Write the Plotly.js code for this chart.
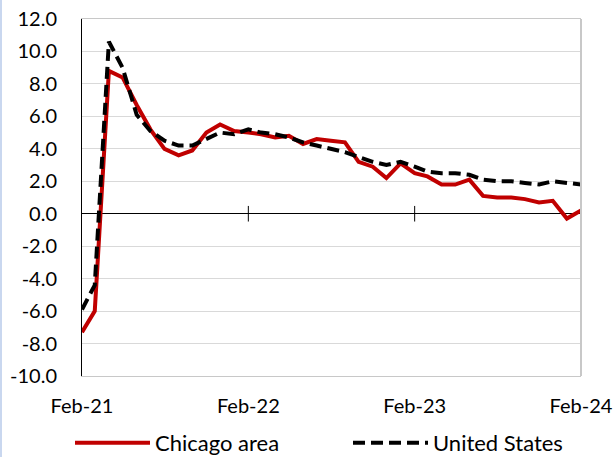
<!DOCTYPE html>
<html><head><meta charset="utf-8">
<script src="https://cdn.plot.ly/plotly-3.0.1.min.js"></script>
<style>
html,body{margin:0;padding:0;background:#fff;}
#wrap{position:absolute;left:0;top:0;width:614px;height:457px;border-left:2px solid #c9d7ef;}
#chart{width:614px;height:457px;}
</style></head><body>
<div id="wrap"><div id="chart"></div></div>
<script>
const months = ["2021-02-01","2021-03-01","2021-04-01","2021-05-01","2021-06-01","2021-07-01","2021-08-01","2021-09-01","2021-10-01","2021-11-01","2021-12-01",
"2022-01-01","2022-02-01","2022-03-01","2022-04-01","2022-05-01","2022-06-01","2022-07-01","2022-08-01","2022-09-01","2022-10-01","2022-11-01","2022-12-01",
"2023-01-01","2023-02-01","2023-03-01","2023-04-01","2023-05-01","2023-06-01","2023-07-01","2023-08-01","2023-09-01","2023-10-01","2023-11-01","2023-12-01",
"2024-01-01","2024-02-01"];
const chicago = [-7.3,-6.0,8.8,8.4,6.7,5.2,4.0,3.6,3.9,5.0,5.5,5.1,5.0,4.9,4.7,4.8,4.3,4.6,4.5,4.4,3.2,2.9,2.2,3.1,2.5,2.3,1.8,1.8,2.1,1.1,1.0,1.0,0.9,0.7,0.8,-0.3,0.2];
const us = [-5.9,-4.4,10.6,9.0,6.1,5.1,4.5,4.2,4.2,4.6,5.0,4.9,5.2,5.0,4.9,4.7,4.4,4.2,4.0,3.8,3.5,3.2,3.0,3.2,2.9,2.6,2.5,2.5,2.4,2.1,2.0,2.0,1.9,1.8,2.0,1.9,1.8];
const tickVals = ["2021-02-01","2022-02-01","2023-02-01","2024-02-01"];
const tickText = ["Feb-21","Feb-22","Feb-23","Feb-24"];
const yTicks = [-10,-8,-6,-4,-2,0,2,4,6,8,10,12];
const yText = yTicks.map(v => v.toFixed(1));

const FONT = "Lato, 'Noto Sans', sans-serif";
const traces = [
  {x: months, y: chicago, name: "Chicago area", type: "scatter", mode: "lines",
   line: {color: "#C00000", width: 4}, legend: "legend"},
  {x: months, y: us, name: "United States", type: "scatter", mode: "lines",
   line: {color: "#000000", width: 4, dash: "12px,6px"}, legend: "legend2"}
];
const tickShapes = tickVals.slice(1).map(d => ({type: "line", xref: "x", yref: "y",
  x0: d, x1: d, y0: -0.48, y1: 0.48, line: {color: "#000", width: 1}}));
const legendBase = {orientation: "h", xref: "container", yref: "container", xanchor: "left",
  y: 0.031, yanchor: "middle", font: {family: FONT, size: 22, color: "#000"}, itemwidth: 75,
  bgcolor: "rgba(0,0,0,0)"};
const layout = {
  width: 614, height: 457,
  margin: {l: 80, r: 35, t: 19, b: 81},
  paper_bgcolor: "#fff", plot_bgcolor: "#fff",
  font: {family: FONT, size: 20, color: "#000"},
  showlegend: true,
  legend: Object.assign({}, legendBase, {x: 68 / 614}),
  legend2: Object.assign({}, legendBase, {x: 346 / 614}),
  xaxis: {type: "date", range: ["2021-02-01", "2024-02-01"], tickvals: tickVals, ticktext: tickText,
    showgrid: false, zeroline: false, showline: true, linecolor: "#c8c8c8", linewidth: 1, mirror: true,
    ticks: "", ticklabelstandoff: 12, fixedrange: true},
  yaxis: {range: [-10, 12], tickvals: yTicks, ticktext: yText, showgrid: true, gridcolor: "#d9d9d9", gridwidth: 1,
    zeroline: true, zerolinecolor: "#000", zerolinewidth: 1,
    showline: true, linecolor: "#000", linewidth: 1, ticks: "", ticklabelstandoff: 20, fixedrange: true},
  shapes: tickShapes.concat([{type: "line", xref: "paper", yref: "paper", x0: 1, x1: 1, y0: 0, y1: 1,
    line: {color: "#c8c8c8", width: 2}}])
};
Plotly.newPlot("chart", traces, layout, {displayModeBar: false, staticPlot: true});
</script></body></html>
